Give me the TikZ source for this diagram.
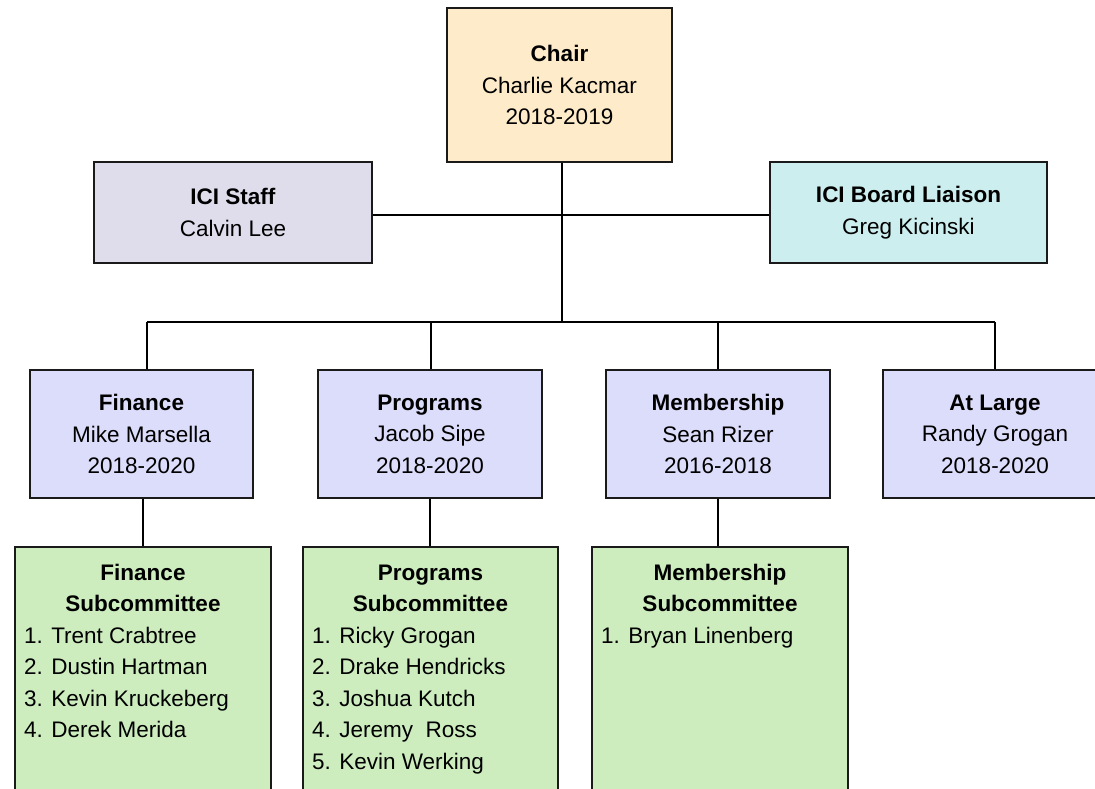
\documentclass[tikz,border=0pt]{standalone}
\usepackage{fontspec}
\setmainfont{Liberation Sans}
\definecolor{chairfill}{HTML}{FDEBC9}
\definecolor{stafffill}{HTML}{DFDDEC}
\definecolor{liaisonfill}{HTML}{CCEEEE}
\definecolor{memberfill}{HTML}{DCDCFB}
\definecolor{subfill}{HTML}{CDEDBF}
\definecolor{edge}{HTML}{1A1A1A}
\tikzset{
  box/.style={draw=edge, line width=1.8pt, rectangle, inner sep=0pt, align=center,
    font=\fontsize{22.5}{31.5}\selectfont, text=black},
  conn/.style={draw=black, line width=1.6pt},
  txt/.style={inner sep=0pt, font=\fontsize{22.5}{31.5}\selectfont, text=black},
}
\begin{document}
\begin{tikzpicture}[x=1pt,y=-1pt]
\useasboundingbox (0,0) rectangle (1095,789);
\clip (0,0) rectangle (1095,789);
% top level
\node[box, fill=chairfill, minimum width=225pt, minimum height=154pt] (chair) at (559.5,85)
  {\textbf{Chair}\\Charlie Kacmar\\2018-2019};
\node[box, fill=stafffill, minimum width=278pt, minimum height=101pt] (staff) at (233,212.5)
  {\textbf{ICI Staff}\\Calvin Lee};
\node[box, fill=liaisonfill, minimum width=277pt, minimum height=101pt] (liaison) at (908.5,212.5)
  {\textbf{ICI Board Liaison}\\Greg Kicinski};
% second level
\node[box, fill=memberfill, minimum width=223pt, minimum height=128pt] (fin) at (141.5,434)
  {\textbf{Finance}\\Mike Marsella\\2018-2020};
\node[box, fill=memberfill, minimum width=224pt, minimum height=128pt] (prog) at (430,434)
  {\textbf{Programs}\\Jacob Sipe\\2018-2020};
\node[box, fill=memberfill, minimum width=224pt, minimum height=128pt] (memb) at (718,434)
  {\textbf{Membership}\\Sean Rizer\\2016-2018};
\node[box, fill=memberfill, minimum width=224pt, minimum height=128pt] (large) at (995,434)
  {\textbf{At Large}\\Randy Grogan\\2018-2020};
% subcommittees
\node[box, fill=subfill, minimum width=256pt, minimum height=260pt, anchor=north] (finsub) at (143,546) {};
\node[box, fill=subfill, minimum width=255pt, minimum height=260pt, anchor=north] (progsub) at (430.5,546) {};
\node[box, fill=subfill, minimum width=256pt, minimum height=260pt, anchor=north] (membsub) at (720,546) {};
% subcommittee titles
\node[txt, anchor=base] (finsubt1) at (143,580) {\textbf{Finance}};
\node[txt, anchor=base] (finsubt2) at (143,611.5) {\textbf{Subcommittee}};
\node[txt, anchor=base] (progsubt1) at (430.5,580) {\textbf{Programs}};
\node[txt, anchor=base] (progsubt2) at (430.5,611.5) {\textbf{Subcommittee}};
\node[txt, anchor=base] (membsubt1) at (720,580) {\textbf{Membership}};
\node[txt, anchor=base] (membsubt2) at (720,611.5) {\textbf{Subcommittee}};
% subcommittee lists
\foreach \t [count=\i] in {1. Trent Crabtree, 2. Dustin Hartman, 3. Kevin Kruckeberg, 4. Derek Merida}
  \node[txt, anchor=base west] (finl\i) at (24,643+31.5*\i-31.5) {\t};
\foreach \t [count=\i] in {1. Ricky Grogan, 2. Drake Hendricks, 3. Joshua Kutch, 4. Jeremy\ \ Ross, 5. Kevin Werking}
  \node[txt, anchor=base west] (progl\i) at (312,643+31.5*\i-31.5) {\t};
\node[txt, anchor=base west] (membl1) at (601,643) {1. Bryan Linenberg};
% connectors
\coordinate (j1) at (562,215);
\coordinate (j2) at (562,322);
\coordinate (b1) at (147,322);
\coordinate (b2) at (431,322);
\coordinate (b3) at (718,322);
\coordinate (b4) at (995,322);
\draw[conn] (staff.east |- j1) -- (liaison.west |- j1);
\draw[conn] (chair.south -| j2) -- (j2);
\draw[conn] (b1) -- (b4);
\draw[conn] (b1) -- (b1 |- fin.north);
\draw[conn] (b2) -- (b2 |- prog.north);
\draw[conn] (b3) -- (b3 |- memb.north);
\draw[conn] (b4) -- (b4 |- large.north);
\draw[conn] (finsub.north |- fin.south) -- (finsub.north);
\draw[conn] (prog.south) -- (prog.south |- progsub.north);
\draw[conn] (memb.south) -- (memb.south |- membsub.north);
\end{tikzpicture}
\end{document}
